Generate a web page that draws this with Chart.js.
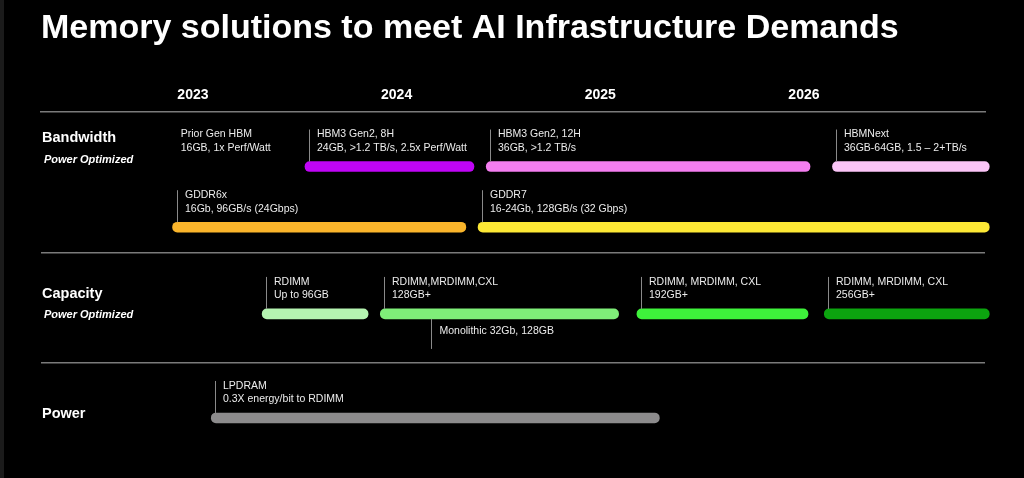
<!DOCTYPE html>
<html>
<head>
<meta charset="utf-8">
<script src="https://cdn.jsdelivr.net/npm/chart.js@4.4.1/dist/chart.umd.min.js"></script>
<style>
  html, body { margin: 0; padding: 0; background: #000; }
  #wrap { position: relative; width: 1024px; height: 478px; }
</style>
</head>
<body>
<div id="wrap"><canvas id="roadmap"></canvas></div>
<script>
// 연도 눈금
const years = [2023, 2024, 2025, 2026];

// 레인 (막대가 놓이는 줄)
const lanes = ['HBM', 'GDDR', 'DIMM', 'LPDRAM'];
const laneRows = [1.9, 4, 7, 10.6];

// 그룹 라벨
const groups = ['Bandwidth', 'Capacity', 'Power'];
const groupSubs = ['Power Optimized', 'Power Optimized', ''];
const groupRows = [0.93, 6.3, 10.47];
const separatorRows = [4.9, 8.7];

// 제품 막대
const products = ['HBM3 Gen2, 8H', 'HBM3 Gen2, 12H', 'HBMNext', 'GDDR6x', 'GDDR7',
    'RDIMM', 'RDIMM,MRDIMM,CXL', 'RDIMM, MRDIMM, CXL', 'RDIMM, MRDIMM, CXL', 'LPDRAM'];
const specs = ['24GB, >1.2 TB/s, 2.5x Perf/Watt', '36GB, >1.2 TB/s', '36GB-64GB, 1.5 – 2+TB/s',
    '16Gb, 96GB/s (24Gbps)', '16-24Gb, 128GB/s (32 Gbps)',
    'Up to 96GB', '128GB+', '192GB+', '256GB+', '0.3X energy/bit to RDIMM'];
const productLane = ['HBM', 'HBM', 'HBM', 'GDDR', 'GDDR', 'DIMM', 'DIMM', 'DIMM', 'DIMM', 'LPDRAM'];
const startYear = [2023.55, 2024.44, 2026.14, 2022.90, 2024.40, 2023.34, 2023.92, 2025.18, 2026.10, 2023.09];
const endYear   = [2024.38, 2026.03, 2026.91, 2024.34, 2026.91, 2023.86, 2025.09, 2026.02, 2026.91, 2025.29];
const barColors = ['#c005f6', '#f47ef0', '#fbc5f7', '#fab52b', '#fde835',
    '#b5f4b1', '#7fee79', '#3ef23b', '#0ca40f', '#8c8b8c'];

// 막대 없는 메모
const noteTitles = ['Prior Gen HBM', ''];
const noteTexts = ['16GB, 1x Perf/Watt', 'Monolithic 32Gb, 128GB'];
const noteYear = [2022.94, 2024.17];
const noteLane = ['HBM', 'DIMM'];
const noteBelow = [false, true];

const FONT = '"Liberation Sans", Arial, sans-serif';

const roadmapLabels = {
    id: 'roadmapLabels',
    beforeDraw(chart) {
        const ctx = chart.ctx;
        ctx.save();
        ctx.fillStyle = '#000';
        ctx.fillRect(0, 0, chart.width, chart.height);
        ctx.fillStyle = '#1b1b1b';
        ctx.fillRect(0, 0, 4, chart.height);
        ctx.restore();
    },
    afterDatasetsDraw(chart) {
        const ctx = chart.ctx;
        const xs = chart.scales.x, ys = chart.scales.y;
        ctx.save();
        ctx.textBaseline = 'middle';
        ctx.textAlign = 'left';

        // 그룹 라벨
        groups.forEach((g, i) => {
            const y = ys.getPixelForValue(groupRows[i]);
            ctx.fillStyle = '#fff';
            ctx.font = 'bold 14.5px ' + FONT;
            ctx.fillText(g, 42, y);
            if (groupSubs[i]) {
                ctx.font = 'italic bold 11px ' + FONT;
                ctx.fillText(groupSubs[i], 44, y + 21);
            }
        });

        // 제품 라벨 + 세로 눈금
        ctx.lineWidth = 1;
        ctx.strokeStyle = '#8a8a8a';
        products.forEach((p, i) => {
            const yc = ys.getPixelForValue(laneRows[lanes.indexOf(productLane[i])]);
            const tx = Math.round(xs.getPixelForValue(startYear[i])) + 4.5;
            ctx.beginPath();
            ctx.moveTo(tx, yc - 5);
            ctx.lineTo(tx, yc - 37);
            ctx.stroke();
            ctx.fillStyle = '#ececec';
            ctx.font = '10.5px ' + FONT;
            ctx.fillText(p, tx + 7.5, yc - 32);
            ctx.fillText(specs[i], tx + 7.5, yc - 18.5);
        });

        // 메모
        noteTexts.forEach((t, i) => {
            const yc = ys.getPixelForValue(laneRows[lanes.indexOf(noteLane[i])]);
            const x = xs.getPixelForValue(noteYear[i]);
            ctx.fillStyle = '#ececec';
            ctx.font = '10.5px ' + FONT;
            if (noteBelow[i]) {
                const tx = Math.round(x) + 0.5;
                ctx.beginPath();
                ctx.moveTo(tx, yc + 5);
                ctx.lineTo(tx, yc + 35);
                ctx.stroke();
                ctx.fillText(t, tx + 8, yc + 17);
            } else {
                ctx.fillText(noteTitles[i], x, yc - 32);
                ctx.fillText(t, x, yc - 18.5);
            }
        });
        ctx.restore();
    }
};

new Chart(document.getElementById('roadmap'), {
    type: 'bar',
    data: {
        datasets: [{
            data: products.map((p, i) => ({
                x: [startYear[i], endYear[i]],
                y: laneRows[lanes.indexOf(productLane[i])]
            })),
            backgroundColor: barColors,
            barThickness: 10,
            borderRadius: 5,
            borderSkipped: false,
            clip: false
        }]
    },
    options: {
        indexAxis: 'y',
        responsive: true,
        maintainAspectRatio: false,
        animation: false,
        events: [],
        layout: { padding: { left: 41, right: 39, top: 0, bottom: 8 } },
        plugins: {
            legend: { display: false },
            tooltip: { enabled: false },
            title: {
                display: true,
                text: 'Memory solutions to meet AI Infrastructure Demands',
                align: 'start',
                color: '#fff',
                font: { family: FONT, size: 34, weight: 'bold' },
                padding: { top: 8, bottom: 30 }
            }
        },
        scales: {
            x: {
                type: 'linear',
                position: 'top',
                min: 2022.254,
                max: 2026.889,
                afterBuildTicks: s => { s.ticks = years.map(v => ({ value: v })); },
                ticks: {
                    autoSkip: false,
                    maxRotation: 0,
                    padding: 8,
                    color: '#fff',
                    font: { family: FONT, size: 14, weight: 'bold' },
                    callback: v => String(v)
                },
                grid: { display: false, drawTicks: false },
                border: { display: true, color: '#7a7a7a', width: 1.5 }
            },
            y: {
                type: 'linear',
                reverse: true,
                offset: false,
                min: 0,
                max: 12.4,
                afterBuildTicks: s => { s.ticks = separatorRows.map(v => ({ value: v })); },
                ticks: { display: false },
                grid: { offset: false, color: '#7a7a7a', lineWidth: 1.5, drawTicks: false },
                border: { display: false }
            }
        }
    },
    plugins: [roadmapLabels]
});
</script>
</body>
</html>
